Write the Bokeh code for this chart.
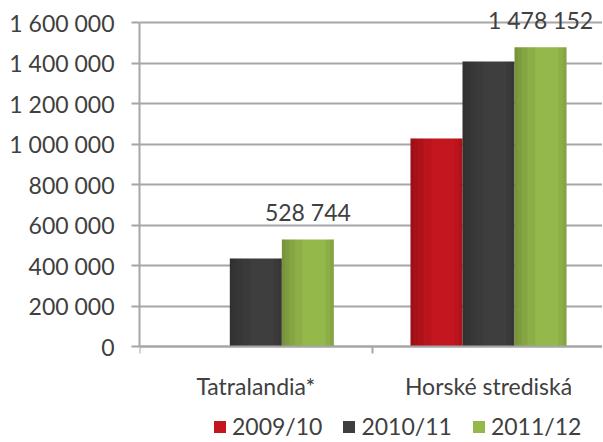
from bokeh.plotting import figure
from bokeh.models import (ColumnDataSource, FixedTicker, Range1d, Legend,
                          LegendItem, LabelSet)
from bokeh.transform import dodge
from bokeh.core.properties import value
from bokeh.embed import file_html
from bokeh.resources import INLINE

# ---- data ----
categories = ["Tatralandia*", "Horské strediská"]
series = ["2009/10", "2010/11", "2011/12"]
v_2009_10 = [float("nan"), 1027000]
v_2010_11 = [435000, 1407000]
v_2011_12 = [528744, 1478152]
labels_2011_12 = ["528 744", "1 478 152"]
y_ticks = [0, 200000, 400000, 600000, 800000, 1000000, 1200000, 1400000, 1600000]
y_tick_labels = ["0", "200 000", "400 000", "600 000", "800 000",
                 "1 000 000", "1 200 000", "1 400 000", "1 600 000"]
colors = ["#c4161e", "#3e3e3e", "#95b84b"]

FONT = "Lato"
TXT = "#404040"
GRID = "#a6a6a6"

xc = [i + 0.5 for i in range(len(categories))]
source = ColumnDataSource(dict(xc=xc, s0=v_2009_10, s1=v_2010_11, s2=v_2011_12,
                               lab=labels_2011_12))

W, H = 602, 441
LEFT = 139
CAT_PX = 232.7
UNIT = 1600000 / 324          # value units per pixel
ZERO_Y = 346                  # pixel row of value 0 inside the figure
p = figure(width=W, height=H, output_backend="svg", toolbar_location=None,
           x_range=Range1d(0, (W - LEFT) / CAT_PX),
           y_range=Range1d(-(H - ZERO_Y) * UNIT, ZERO_Y * UNIT))
p.min_border_left = LEFT
p.min_border_right = 0
p.min_border_top = 0
p.min_border_bottom = 0
p.outline_line_color = None
p.background_fill_color = "white"
p.border_fill_color = "white"

BW = 0.2235
offsets = [-BW, 0.0, BW]
fields = ["s0", "s1", "s2"]

renderers = []
for f, off, col in zip(fields, offsets, colors):
    r = p.vbar(x=dodge("xc", off, range=p.x_range), top=f, bottom=0, width=BW,
               source=source, fill_color=col, line_color=None)
    renderers.append(r)
    # subtle horizontal shading (left darker, right slightly darker)
    for frac in [0.4, 0.25, 0.14, 0.06]:
        w = BW * frac
        p.vbar(x=dodge("xc", off - BW / 2 + w / 2, range=p.x_range), top=f, bottom=0,
               width=w, source=source, fill_color="black", fill_alpha=0.05,
               line_color=None)
    for frac in [0.16, 0.07]:
        w = BW * frac
        p.vbar(x=dodge("xc", off + BW / 2 - w / 2, range=p.x_range), top=f, bottom=0,
               width=w, source=source, fill_color="black", fill_alpha=0.05,
               line_color=None)

# data labels for 2011/12
labels = LabelSet(x=dodge("xc", offsets[2], range=p.x_range), y="s2", text="lab",
                  source=source, text_align="center", text_baseline="middle",
                  y_offset=27, text_font=value(FONT), text_font_size=value("23px"),
                  text_color=value(TXT))
p.add_layout(labels)

# y axis
p.yaxis.ticker = FixedTicker(ticks=y_ticks)
p.yaxis.bounds = (0, 1600000)
p.yaxis.major_label_overrides = {t: l for t, l in zip(y_ticks, y_tick_labels)}
p.yaxis.major_tick_out = 8
p.yaxis.major_tick_in = 0
p.yaxis.minor_tick_out = 0
p.yaxis.minor_tick_in = 0
p.yaxis.major_label_standoff = 17
p.yaxis.axis_line_color = GRID
p.yaxis.axis_line_width = 2
p.yaxis.major_tick_line_color = GRID
p.yaxis.major_tick_line_width = 2
p.yaxis.major_label_text_font = FONT
p.yaxis.major_label_text_font_size = "23px"
p.yaxis.major_label_text_color = TXT

p.ygrid.ticker = FixedTicker(ticks=y_ticks)
p.ygrid.grid_line_color = GRID
p.ygrid.grid_line_width = 2
p.xgrid.grid_line_color = None

# x axis, drawn at value 0 inside the frame
p.xaxis.fixed_location = 0
p.xaxis.ticker = FixedTicker(ticks=xc, minor_ticks=[0, 1, 2])
p.xaxis.major_label_overrides = {x: c for x, c in zip(xc, categories)}
p.xaxis.major_tick_out = 0
p.xaxis.major_tick_in = 0
p.xaxis.minor_tick_out = 7
p.xaxis.minor_tick_in = 0
p.xaxis.minor_tick_line_color = GRID
p.xaxis.minor_tick_line_width = 2
p.xaxis.axis_line_color = GRID
p.xaxis.axis_line_width = 2
p.xaxis.major_label_standoff = 18
p.xaxis.major_label_text_font = FONT
p.xaxis.major_label_text_font_size = "23px"
p.xaxis.major_label_text_color = TXT

# legend
legend = Legend(items=[LegendItem(label=s, renderers=[r]) for s, r in zip(series, renderers)],
                orientation="horizontal", location=(73, 1),
                glyph_width=15, glyph_height=15, label_standoff=5, spacing=19,
                padding=0, margin=0, border_line_color=None,
                background_fill_alpha=0, label_text_font=FONT,
                label_text_font_size="23px", label_text_color=TXT)
p.add_layout(legend, "center")

open("out.html", "w").write(file_html(p, INLINE))
